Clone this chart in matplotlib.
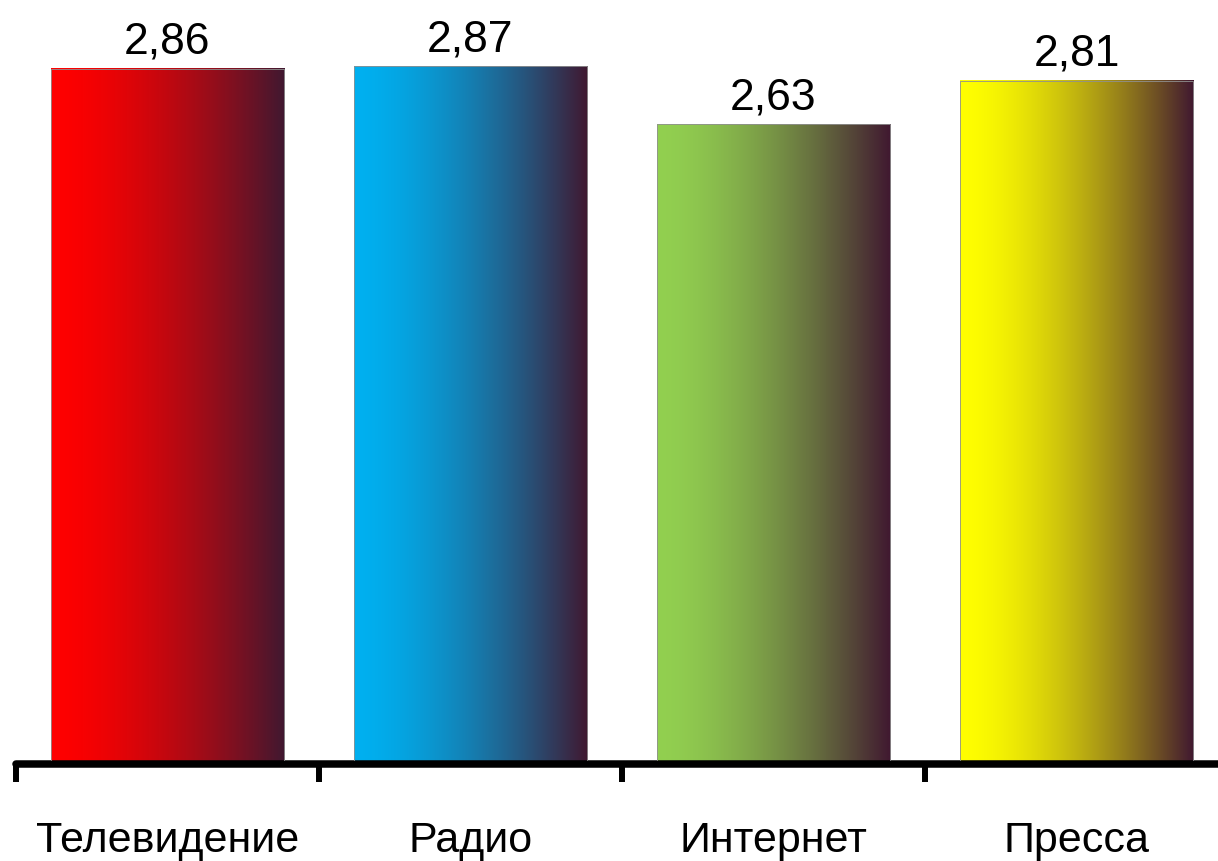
import numpy as np
import matplotlib
matplotlib.use('Agg')
import matplotlib.pyplot as plt
from matplotlib.colors import to_rgb

categories = ['Телевидение', 'Радио', 'Интернет', 'Пресса']
values = [2.86, 2.87, 2.63, 2.81]
value_labels = ['2,86', '2,87', '2,63', '2,81']
start_colors = ['#ff0000', '#00b0f0', '#92d050', '#ffff00']
end_color = '#401830'

fonts = ['Liberation Sans', 'DejaVu Sans']

fig = plt.figure(figsize=(12.18, 8.62), dpi=100)
ax = fig.add_axes([15.7 / 1218, 100.3 / 862, 4 * 303.1 / 1218, 761.7 / 862])

x = np.arange(len(categories))
bars = ax.bar(x, values, width=0.77, color='none', edgecolor='#909090', linewidth=0.6, zorder=3)

# horizontal gradient inside every bar
t = np.linspace(0, 1, 256) ** 1.6
c1 = np.array(to_rgb(end_color))
for b, col in zip(bars, start_colors):
    c0 = np.array(to_rgb(col))
    grad = (c0[None, :] * (1 - t[:, None]) + c1[None, :] * t[:, None])[None, :, :]
    x0, w, h = b.get_x(), b.get_width(), b.get_height()
    ax.imshow(grad, extent=[x0, x0 + w, 0, h], aspect='auto', zorder=2, interpolation='bilinear')

for b, lab in zip(bars, value_labels):
    ax.annotate(lab, (b.get_x() + b.get_width() / 2, b.get_height()),
                xytext=(0, 11.5), textcoords='offset points', ha='center', va='baseline',
                fontsize=32, family=fonts)

ax.set_xlim(-0.5, 3.5)
ax.set_ylim(0, 761.7 / 242.0)

for s in ['left', 'right', 'top']:
    ax.spines[s].set_visible(False)
ax.spines['bottom'].set_linewidth(5.4)
ax.spines['bottom'].set_position(('outward', 2.7))
ax.spines['bottom'].set_capstyle('round')
ax.set_yticks([])

ax.set_xticks(x)
ax.set_xticklabels([])
ax.tick_params(axis='x', which='major', length=0)
ax.set_xticks(np.arange(-0.5, 4.0, 1.0), minor=True)
ax.tick_params(axis='x', which='minor', length=13, width=4.3, color='black')

for xi, cat in zip(x, categories):
    ax.text(xi, -(852 - 761.7) / 242.0, cat, ha='center', va='baseline',
            fontsize=31, family=fonts, clip_on=False)

fig.savefig('out.png', dpi=100)
